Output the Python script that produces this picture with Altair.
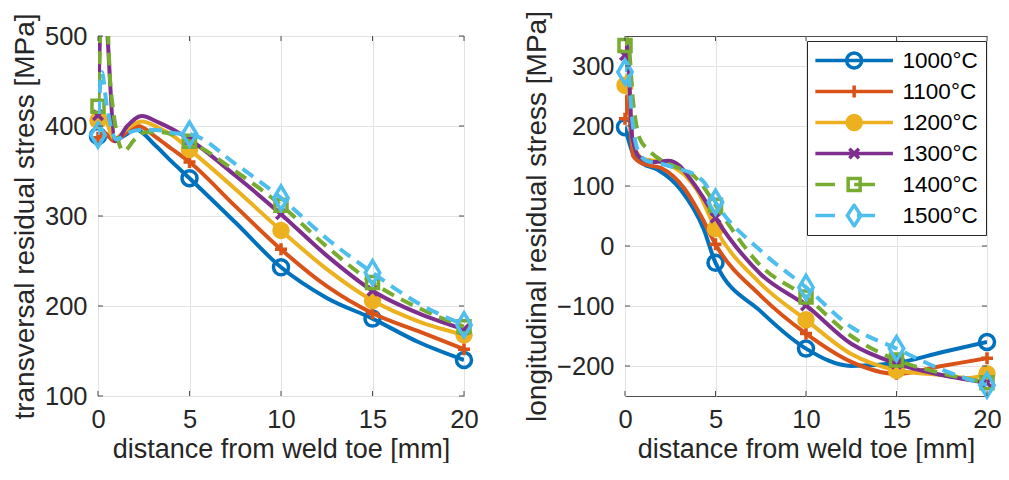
import altair as alt
import pandas as pd

SERIES = ["1000°C", "1100°C", "1200°C", "1300°C", "1400°C", "1500°C"]
COLORS = ["#0072BD", "#D95319", "#EDB120", "#7E2F8E", "#77AC30", "#4DBEEE"]
MARKER_X = [0, 5, 10, 15, 20]

# ---- left panel: transversal residual stress [MPa]
T_X_1000 = [0, 0.3, 0.9, 1.5, 2.05, 3.15, 4.0, 5, 7.5, 10, 12.5, 15, 17.5, 20]
T_Y_1000 = [389, 392, 384, 390, 396, 378, 361, 342, 293, 243, 209, 186, 160, 140]
T_X_1100 = [0, 0.3, 0.9, 1.5, 2.2, 3.2, 4.0, 5, 7.5, 10, 12.5, 15, 17.5, 20]
T_Y_1100 = [387, 393, 383, 392, 400, 387, 375, 360, 311, 263, 222, 192, 172, 152]
T_X_1200 = [0, 0.2, 0.9, 1.6, 2.4, 3.3, 4.1, 5, 7.5, 10, 12.5, 15, 17.5, 20]
T_Y_1200 = [406, 415, 386, 397, 405, 398, 389, 374, 330, 284, 241, 206, 183, 168]
T_X_1300 = [0, 0.25, 0.95, 1.6, 2.4, 3.3, 4.1, 5, 7.5, 10, 12.5, 15, 17.5, 20]
T_Y_1300 = [412, 560, 383, 400, 411, 404, 396, 385, 345, 302, 256, 217, 192, 174]
T_X_1400 = [0, 0.35, 0.7, 1.4, 2.0, 2.6, 3.5, 4.2, 5, 7.5, 10, 12.5, 15, 17.5, 20]
T_Y_1400 = [422, 580, 440, 372, 385, 393, 393, 390, 383, 350, 312, 266, 226, 198, 177]
T_X_1500 = [0, 0.2, 0.5, 1.0, 1.7, 2.5, 3.5, 4.2, 5, 7.5, 10, 12.5, 15, 17.5, 20]
T_Y_1500 = [390, 460, 420, 385, 393, 396, 395, 392, 391, 358, 320, 275, 237, 203, 179]

# ---- right panel: longitudinal residual stress [MPa]
L_X_1000 = [0, 0.5, 1.0, 1.8, 3.1, 4.35, 5, 7.5, 10, 12.5, 15, 17.5, 20]
L_Y_1000 = [198, 150, 137, 127, 93, 28, -28, -109, -171, -200, -195, -177, -160]
L_X_1100 = [0, 0.12, 0.45, 1.0, 2.0, 3.3, 4.2, 5, 7.5, 10, 12.5, 15, 17.5, 20]
L_Y_1100 = [212, 250, 150, 137, 130, 95, 50, 3, -83, -146, -193, -213, -200, -187]
L_X_1200 = [0, 0.12, 0.45, 1.0, 2.0, 3.3, 4.0, 5, 7.5, 10, 12.5, 15, 17.5, 19, 20]
L_Y_1200 = [268, 285, 170, 145, 140, 118, 92, 29, -63, -123, -180, -207, -215, -220, -213]
L_X_1300 = [0, 0.12, 0.4, 0.8, 1.5, 2.4, 3.0, 3.6, 4.3, 5, 7.5, 10, 12.5, 15, 17.5, 20]
L_Y_1300 = [318, 335, 180, 148, 140, 142, 134, 112, 82, 47, -47, -99, -163, -196, -215, -228]
L_X_1400 = [0, 0.15, 0.45, 0.8, 1.3, 2.0, 2.8, 3.6, 4.3, 5, 7.5, 10, 12.5, 15, 17.5, 20]
L_Y_1400 = [334, 345, 240, 180, 160, 143, 132, 122, 100, 68, -33, -85, -150, -190, -212, -228]
L_X_1500 = [0, 0.12, 0.4, 0.7, 1.2, 2.0, 3.0, 3.8, 4.4, 5, 7.5, 10, 12.5, 15, 17.5, 20]
L_Y_1500 = [290, 305, 210, 160, 142, 137, 128, 120, 105, 73, -8, -69, -135, -171, -206, -232]

T_TICKS = [100, 200, 300, 400, 500]
L_TICKS = [-200, -100, 0, 100, 200, 300]

LEFT = {s: (x, y) for s, x, y in zip(SERIES,
        [T_X_1000, T_X_1100, T_X_1200, T_X_1300, T_X_1400, T_X_1500],
        [T_Y_1000, T_Y_1100, T_Y_1200, T_Y_1300, T_Y_1400, T_Y_1500])}
RIGHT = {s: (x, y) for s, x, y in zip(SERIES,
         [L_X_1000, L_X_1100, L_X_1200, L_X_1300, L_X_1400, L_X_1500],
         [L_Y_1000, L_Y_1100, L_Y_1200, L_Y_1300, L_Y_1400, L_Y_1500])}


def frame(d):
    rows = []
    for s in SERIES:
        xs, ys = d[s]
        for x, y in zip(xs, ys):
            rows.append({"series": s, "x": x, "y": y, "mk": 1 if x in MARKER_X else 0})
    return pd.DataFrame(rows)


# ---- styles
FONT = "Liberation Sans"
AXIS_COLOR = "#4d4d4d"
TICK_LEN = 5
DASH = {"1400°C": [13, 8], "1500°C": [13, 8]}
MARKER = {
    "1000°C": "M0.94,0A0.94,0.94 0 1,1 -0.94,0A0.94,0.94 0 1,1 0.94,0Z",
    "1100°C": "M-0.75,0L0.75,0M0,-0.75L0,0.75",
    "1200°C": "M0.875,0A0.875,0.875 0 1,1 -0.875,0A0.875,0.875 0 1,1 0.875,0Z",
    "1300°C": "M-0.6,-0.6L0.6,0.6M-0.6,0.6L0.6,-0.6",
    "1400°C": "M-0.75,-0.75L0.75,-0.75L0.75,0.75L-0.75,0.75Z",
    "1500°C": "M0,-1.5L0.9,0L0,1.5L-0.9,0Z",
}
FILLED = {"1200°C": True}


def ring(cx, r):
    return (f"M{cx + r:.3f},0A{r},{r} 0 1,1 {cx - r:.3f},0"
            f"A{r},{r} 0 1,1 {cx + r:.3f},0")


M = 3.55
LINE = "M-1.3,0L8.4,0"
LEG_PATHS = [
    LINE + ring(M, 0.94),
    LINE + f"M{M},-0.75L{M},0.75",
    LINE + ring(M, 0.875) + ring(M, 0.5) + ring(M, 0.15),
    LINE + f"M{M-0.6},-0.6L{M+0.6},0.6M{M-0.6},0.6L{M+0.6},-0.6",
    "M-1.3,0L1.15,0" + f"M{M},0L6.15,0" +
    f"M{M-0.75},-0.75L{M+0.75},-0.75L{M+0.75},0.75L{M-0.75},0.75Z",
    "M-1.3,0L1.15,0" + "M3.9,0L6.15,0" +
    f"M{M},-1.3L{M+0.85},0L{M},1.3L{M-0.85},0Z",
]

HEIGHT = 360


def panel(d, dom, ticks, ytitle, width, legend):
    df = frame(d)
    xenc = alt.X("x:Q", scale=alt.Scale(domain=[0, 20], nice=False),
                 axis=alt.Axis(values=MARKER_X, title="distance from weld toe [mm]",
                               labelPadding=11, titlePadding=4, labelFlush=False))
    yenc = alt.Y("y:Q", scale=alt.Scale(domain=dom, nice=False, zero=False),
                 axis=alt.Axis(values=ticks, title=ytitle, labelPadding=11,
                               titlePadding=5, labelFlush=False))
    layers = []
    for s, c in zip(SERIES, COLORS):
        sub = alt.Chart(df).transform_filter(alt.datum.series == s)
        lk = dict(clip=True, color=c, strokeWidth=4, interpolate="monotone")
        if s in DASH:
            lk["strokeDash"] = DASH[s]
        layers.append(sub.mark_line(**lk).encode(x=xenc, y=yenc))
        pk = dict(shape=MARKER[s], size=256, color=c, stroke=c, strokeWidth=3.5,
                  opacity=1, filled=FILLED.get(s, False))
        layers.append(sub.transform_filter(alt.datum.mk == 1)
                      .mark_point(**pk).encode(x=xenc, y=yenc))

    # inward tick marks on all four sides (MATLAB box style)
    xt = alt.Chart(pd.DataFrame({"x": MARKER_X})).mark_rule(color=AXIS_COLOR, strokeWidth=1)
    layers.append(xt.encode(x=xenc, y=alt.value(HEIGHT), y2=alt.value(HEIGHT - TICK_LEN)))
    layers.append(xt.encode(x=xenc, y=alt.value(0), y2=alt.value(TICK_LEN)))
    yt = alt.Chart(pd.DataFrame({"y": ticks})).mark_rule(color=AXIS_COLOR, strokeWidth=1)
    layers.append(yt.encode(y=yenc, x=alt.value(0), x2=alt.value(TICK_LEN)))
    layers.append(yt.encode(y=yenc, x=alt.value(width), x2=alt.value(width - TICK_LEN)))

    if legend:
        leg = alt.Legend(title=None, orient="none", legendX=182, legendY=5,
                         labelFont=FONT, labelFontSize=22.5, labelColor="#000000",
                         symbolSize=256, symbolStrokeWidth=3.5, labelOffset=65.5,
                         padding=7.5, rowPadding=7, clipHeight=24,
                         strokeColor="#262626", fillColor="white",
                         cornerRadius=0, symbolOpacity=1)
        layers.append(
            alt.Chart(df).transform_filter("false").mark_point(filled=False, strokeWidth=3.5)
            .encode(color=alt.Color("series:N", scale=alt.Scale(domain=SERIES, range=COLORS), legend=leg),
                    shape=alt.Shape("series:N", scale=alt.Scale(domain=SERIES, range=LEG_PATHS), legend=leg))
        )
    return alt.layer(*layers).properties(width=width, height=HEIGHT)


left = panel(LEFT, [100, 500], T_TICKS, "transversal residual stress [MPa]", 366, False)
right = panel(RIGHT, [-250, 350], L_TICKS, "longitudinal residual stress [MPa]", 362, True)

chart = (
    alt.hconcat(left, right, spacing=43)
    .resolve_scale(color="independent", shape="independent")
    .properties(padding={"left": 2, "top": 2, "right": -2.5, "bottom": 0})
    .configure_view(stroke=AXIS_COLOR, strokeWidth=1)
    .configure_axis(grid=True, gridColor="#e3e3e3", gridWidth=1, domain=False,
                    ticks=False, tickSize=0,
                    labelFont=FONT, labelFontSize=25.5, labelColor="#262626",
                    titleFont=FONT, titleFontSize=28, titleColor="#262626",
                    titleFontWeight="normal")
    .configure_axisX(titleFontSize=27)
)

chart.save("out.html", embed_options={"renderer": "svg", "actions": False})
